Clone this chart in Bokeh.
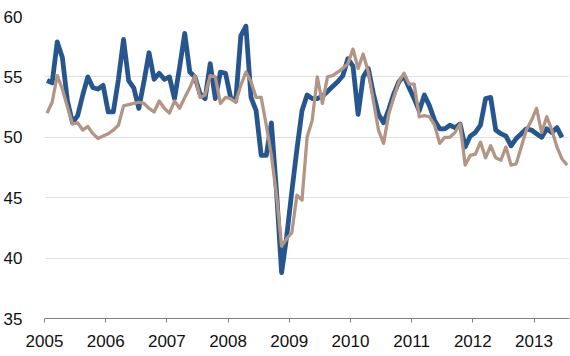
from bokeh.plotting import figure
from bokeh.models import Range1d, FixedTicker
from bokeh.embed import file_html
from bokeh.resources import INLINE

start_year = 2005
year_ticks = [2005, 2006, 2007, 2008, 2009, 2010, 2011, 2012, 2013]
y_ticks = [35, 40, 45, 50, 55, 60]

series_blue = [
    54.7, 54.5, 57.9, 56.6, 53.0, 51.2, 51.8, 53.5, 55.0, 54.1, 54.0, 54.3,
    52.1, 52.1, 54.8, 58.1, 54.7, 54.1, 52.4, 54.6, 57.0, 54.8, 55.3, 54.8,
    55.0, 53.2, 55.8, 58.6, 55.4, 55.0, 53.6, 53.2, 56.1, 53.2, 55.4, 55.3,
    53.3, 53.0, 58.4, 59.2, 53.3, 52.2, 48.5, 48.5, 51.2, 45.5, 38.8, 41.8,
    45.5, 49.0, 52.2, 53.5, 53.2, 53.2, 53.4, 53.8, 54.2, 54.6, 55.1, 56.5,
    55.9, 51.9, 55.0, 55.7, 53.6, 51.9, 51.2, 52.3, 53.6, 54.6, 55.1, 54.1,
    53.2, 52.2, 53.5, 52.6, 51.4, 50.7, 50.7, 51.0, 50.8, 51.1, 49.2, 50.1,
    50.4, 51.0, 53.2, 53.3, 50.6, 50.3, 50.1, 49.3, 49.9, 50.3, 50.7, 50.6,
    50.3, 50.0, 50.7, 50.4, 50.8, 50.0,
]

series_tan = [
    52.0, 52.9, 55.1, 54.0, 52.5, 51.1, 51.2, 50.6, 50.9, 50.3, 49.9, 50.1,
    50.3, 50.6, 51.0, 52.6, 52.7, 52.8, 52.9, 52.8, 52.4, 52.1, 53.0, 52.4,
    52.0, 53.0, 52.4, 53.3, 54.1, 55.1, 53.3, 53.5, 55.1, 55.0, 52.8, 53.3,
    53.2, 52.9, 54.3, 55.4, 54.6, 53.3, 53.3, 51.0, 48.5, 45.2, 41.0, 41.6,
    42.1, 45.2, 44.8, 50.0, 51.4, 55.0, 52.8, 55.0, 55.1, 55.4, 55.7, 56.1,
    57.3, 55.7, 56.9, 55.4, 53.0, 50.6, 49.5, 51.9, 53.3, 54.6, 55.3, 54.4,
    54.4, 51.7, 51.8, 51.7, 51.0, 49.5, 50.0, 50.0, 50.4, 51.1, 47.7, 48.5,
    48.6, 49.6, 48.3, 49.3, 48.3, 48.1, 49.2, 47.7, 47.8, 49.2, 50.6, 51.4,
    52.4, 50.4, 51.7, 50.6, 49.2, 48.2, 47.7,
]

# monthly data plotted at mid-month
x_blue = [start_year + (i + 0.5) / 12 for i in range(len(series_blue))]
x_tan = [start_year + (i + 0.5) / 12 for i in range(len(series_tan))]

FONT = "Liberation Sans"

p = figure(width=570, height=356, output_backend="svg", toolbar_location=None,
           x_range=Range1d(2005, 2013.58), y_range=Range1d(35, 60),
           min_border_left=39, min_border_right=1, min_border_top=16, min_border_bottom=38)
p.outline_line_color = None
p.background_fill_color = "white"
p.border_fill_color = "white"

p.line(x_blue, series_blue, line_color="#27568E", line_width=4.8, line_join="round")
p.line(x_tan, series_tan, line_color="#B39585", line_width=3.3, line_join="round")

p.xgrid.grid_line_color = None
p.ygrid.grid_line_color = "#E0E0E0"
p.ygrid.grid_line_width = 1

p.xaxis.ticker = FixedTicker(ticks=year_ticks)
p.xaxis.major_label_overrides = {t: str(t) for t in year_ticks}
p.xaxis.axis_line_color = "#808080"
p.xaxis.axis_line_width = 1
p.xaxis.major_tick_line_color = "#808080"
p.xaxis.major_tick_out = 4
p.xaxis.major_tick_in = 0
p.xaxis.minor_tick_line_color = None
p.xaxis.major_label_text_font = FONT
p.xaxis.major_label_text_font_size = "17px"
p.xaxis.major_label_text_color = "#111111"
p.xaxis.major_label_standoff = 12

p.yaxis.ticker = FixedTicker(ticks=y_ticks)
p.yaxis.axis_line_color = None
p.yaxis.major_tick_line_color = None
p.yaxis.minor_tick_line_color = None
p.yaxis.major_label_text_font = FONT
p.yaxis.major_label_text_font_size = "17px"
p.yaxis.major_label_text_color = "#111111"
p.yaxis.major_label_standoff = 16

open("out.html", "w").write(file_html(p, INLINE))
